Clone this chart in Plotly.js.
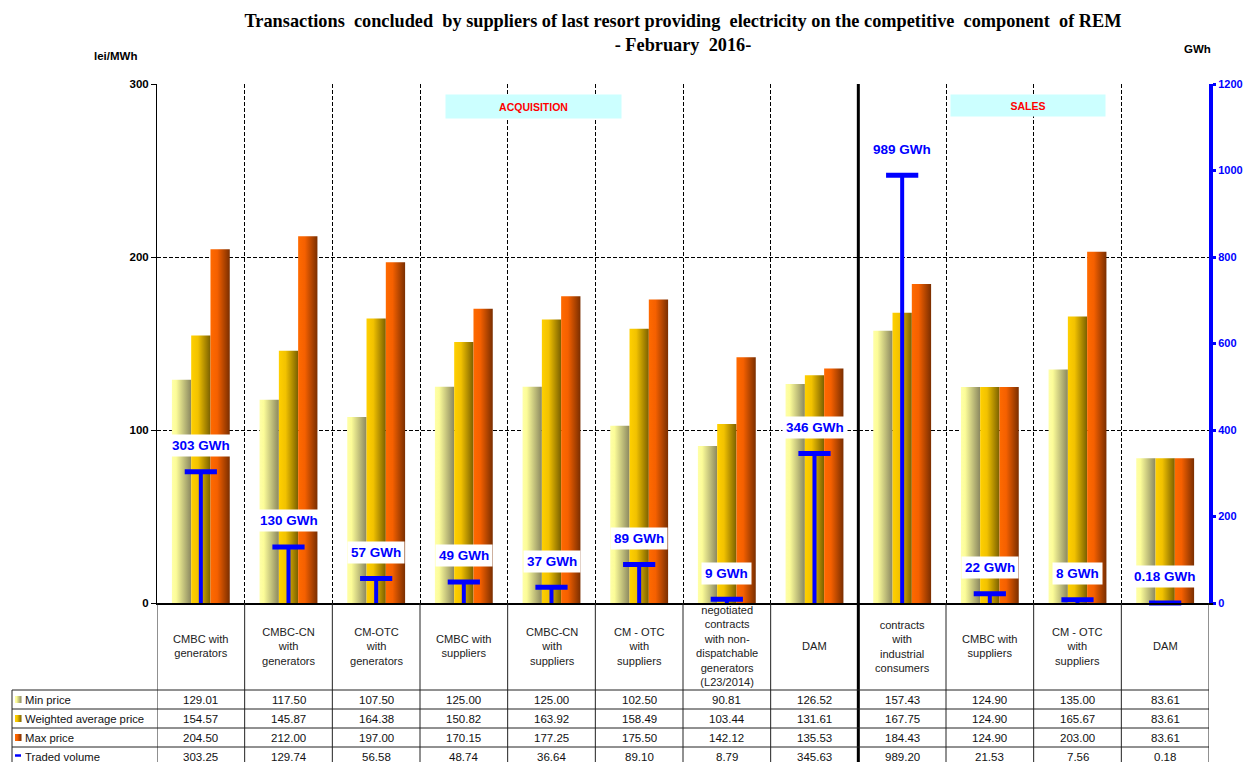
<!DOCTYPE html>
<html>
<head>
<meta charset="utf-8">
<script src="https://cdn.plot.ly/plotly-3.0.1.min.js"></script>
<style>
html,body{margin:0;padding:0;background:#fff;}
#chart{width:1246px;height:762px;}
</style>
</head>
<body>
<div id="chart"></div>
<script>
// ---------------- DATA ----------------
const categories = [
  "CMBC with<br>generators",
  "CMBC-CN<br>with<br>generators",
  "CM-OTC<br>with<br>generators",
  "CMBC with<br>suppliers",
  "CMBC-CN<br>with<br>suppliers",
  "CM - OTC<br>with<br>suppliers",
  "negotiated<br>contracts<br>with non-<br>dispatchable<br>generators<br>(L23/2014)",
  "DAM",
  "contracts<br>with<br>industrial<br>consumers",
  "CMBC with<br>suppliers",
  "CM - OTC<br>with<br>suppliers",
  "DAM"
];
const minPrice     = [129.01, 117.50, 107.50, 125.00, 125.00, 102.50, 90.81, 126.52, 157.43, 124.90, 135.00, 83.61];
const avgPrice     = [154.57, 145.87, 164.38, 150.82, 163.92, 158.49, 103.44, 131.61, 167.75, 124.90, 165.67, 83.61];
const maxPrice     = [204.50, 212.00, 197.00, 170.15, 177.25, 175.50, 142.12, 135.53, 184.43, 124.90, 203.00, 83.61];
const tradedVolume = [303.25, 129.74, 56.58, 48.74, 36.64, 89.10, 8.79, 345.63, 989.20, 21.53, 7.56, 0.18];
const seriesNames  = ["Min price", "Weighted average price", "Max price", "Traded volume"];
const groupLabels  = ["ACQUISITION", "SALES"];
const titleText = "Transactions&nbsp; concluded&nbsp; by suppliers of last resort providing&nbsp; electricity on the competitive&nbsp; component&nbsp; of REM<br>- February&nbsp; 2016-";

// ---------------- LAYOUT HELPERS ----------------
const W = 1246, H = 762;
const M = {l:157, r:37, t:84, b:159};
const PW = W - M.l - M.r, PH = H - M.t - M.b;
const px = v => (v - M.l) / PW;          // pixel x -> paper x
const py = v => (M.t + PH - v) / PH;     // pixel y -> paper y
const idx = categories.map((_, i) => i);

const FONT = "Liberation Sans, Arial, sans-serif";
const BLUE = "#0000FF";

const traces = [
  {type:'bar', name:seriesNames[0], x:idx, y:minPrice, marker:{color:'#d8d68a'}, hoverinfo:'y'},
  {type:'bar', name:seriesNames[1], x:idx, y:avgPrice, marker:{color:'#e0b000'}, hoverinfo:'y'},
  {type:'bar', name:seriesNames[2], x:idx, y:maxPrice, marker:{color:'#e05a00'}, hoverinfo:'y'},
  {type:'scatter', mode:'markers', name:seriesNames[3], x:idx, y:tradedVolume, yaxis:'y2',
   cliponaxis:false,
   marker:{symbol:'line-ew', size:23, color:BLUE, line:{color:BLUE, width:5}},
   error_y:{type:'data', symmetric:false, array:tradedVolume.map(()=>0), arrayminus:tradedVolume,
            color:BLUE, thickness:4, width:0}}
];

const shapes = [];
const annotations = [];
const lineCol = '#222';
const bottomY = py(H + 4);

// table vertical borders at category boundaries
for (let b = -0.5; b <= categories.length - 0.5; b += 1) {
  if (b === 7.5) continue;
  shapes.push({type:'line', xref:'x', yref:'paper', x0:b, x1:b, y0:0, y1:bottomY, line:{color:lineCol, width:1}});
}
// thick separator acquisition / sales
shapes.push({type:'line', xref:'x', yref:'paper', x0:7.5, x1:7.5, y0:1, y1:bottomY, line:{color:'#000', width:3}});
// left border of row labels
shapes.push({type:'line', xref:'paper', yref:'paper', x0:px(12), x1:px(12), y0:py(690), y1:bottomY, line:{color:lineCol, width:1}});
// row horizontal borders
[690, 709, 728, 747].forEach(yy => {
  shapes.push({type:'line', xref:'paper', yref:'paper', x0:px(12), x1:1, y0:py(yy), y1:py(yy), line:{color:lineCol, width:1}});
});
// legend keys in the table
const rowCenters = [699.5, 718.5, 737.5, 756.5];
const keyShapeIdx = [];
for (let r = 0; r < 3; r++) {
  keyShapeIdx.push(shapes.length);
  shapes.push({type:'rect', xref:'paper', yref:'paper', x0:px(15), x1:px(21.5),
               y0:py(rowCenters[r]+3.5), y1:py(rowCenters[r]-3.5),
               fillcolor:['#d8d68a','#e0b000','#e05a00'][r], line:{width:0}});
}
shapes.push({type:'line', xref:'paper', yref:'paper', x0:px(15), x1:px(21), y0:py(rowCenters[3]-1), y1:py(rowCenters[3]-1),
             line:{color:BLUE, width:2.5}});

// header category labels
categories.forEach((c, i) => {
  annotations.push({xref:'x', yref:'paper', x:i, y:py(646), text:c, showarrow:false,
    xanchor:'center', yanchor:'middle', align:'center', font:{family:FONT, size:11.1, color:'#222'}});
});
// data rows
const rows = [minPrice, avgPrice, maxPrice, tradedVolume];
rows.forEach((arr, r) => {
  arr.forEach((v, i) => {
    annotations.push({xref:'x', yref:'paper', x:i, y:py(rowCenters[r]), text:v.toFixed(2), showarrow:false,
      xanchor:'center', yanchor:'middle', font:{family:FONT, size:11.5, color:'#111'}});
  });
  annotations.push({xref:'paper', yref:'paper', x:px(23), y:py(rowCenters[r]), text:seriesNames[r], showarrow:false,
    xanchor:'left', yanchor:'middle', font:{family:FONT, size:11.3, color:'#111'}});
});
// volume labels
tradedVolume.forEach((v, i) => {
  const t = (v >= 1 ? Math.round(v) : v) + " GWh";
  annotations.push({xref:'x', yref:'y2', x:i, y:v, yshift:26, text:t, showarrow:false,
    xanchor:'center', yanchor:'middle', bgcolor:'#fff', borderpad:3,
    font:{family:FONT, size:13.5, color:BLUE, weight:'bold'}});
});
// group labels
annotations.push({xref:'paper', yref:'paper', x:px(533.5), y:py(106.5), text:groupLabels[0], showarrow:false,
  xanchor:'center', yanchor:'middle', width:175, height:23, bgcolor:'#CCFFFF', borderpad:0,
  font:{family:FONT, size:10.5, color:'#FF0000', weight:'bold'}});
annotations.push({xref:'paper', yref:'paper', x:px(1028), y:py(105.5), text:groupLabels[1], showarrow:false,
  xanchor:'center', yanchor:'middle', width:154, height:21, bgcolor:'#CCFFFF', borderpad:0,
  font:{family:FONT, size:10.5, color:'#FF0000', weight:'bold'}});
// axis unit titles
annotations.push({xref:'paper', yref:'paper', x:px(115), y:py(56), text:'lei/MWh', showarrow:false,
  xanchor:'center', yanchor:'middle', font:{family:FONT, size:11.5, color:'#000', weight:'bold'}});
annotations.push({xref:'paper', yref:'paper', x:px(1197.5), y:py(49), text:'GWh', showarrow:false,
  xanchor:'center', yanchor:'middle', font:{family:FONT, size:11.5, color:'#000', weight:'bold'}});

const layout = {
  width:W, height:H,
  margin:{l:M.l, r:M.r, t:M.t, b:M.b, pad:0},
  paper_bgcolor:'#fff', plot_bgcolor:'#fff',
  showlegend:false,
  barmode:'group', bargap:0.34, bargroupgap:0,
  title:{text:titleText, x:0.5, xref:'paper', xanchor:'center', y:1-27/H, yref:'container', yanchor:'top',
         font:{family:"Liberation Serif, Times New Roman, serif", size:18.3, color:'#000', weight:'bold'}},
  xaxis:{range:[-0.5, categories.length-0.5], tickmode:'linear', tick0:-0.5, dtick:1,
         showticklabels:false, ticks:'', showgrid:true, gridcolor:'#000', gridwidth:1, griddash:'4px,2px',
         showline:true, linecolor:'#000', linewidth:2, zeroline:false, fixedrange:true},
  yaxis:{range:[0,300], tickmode:'linear', tick0:0, dtick:100, showgrid:true, gridcolor:'#000', gridwidth:1,
         griddash:'4px,2px', zeroline:false, showline:true, linecolor:'#000', linewidth:1,
         ticks:'outside', ticklen:5, tickcolor:'#000', tickwidth:1,
         tickfont:{family:FONT, size:11.5, color:'#000', weight:'bold'}, fixedrange:true},
  yaxis2:{overlaying:'y', side:'right', range:[0,1200], tickmode:'linear', tick0:0, dtick:200,
          showgrid:false, zeroline:false, showline:true, linecolor:BLUE, linewidth:4,
          ticks:'outside', ticklen:3, tickwidth:3, tickcolor:BLUE,
          tickfont:{family:FONT, size:11, color:BLUE, weight:'bold'}, fixedrange:true},
  shapes:shapes,
  annotations:annotations
};

Plotly.newPlot('chart', traces, layout, {displayModeBar:false, staticPlot:true}).then(gd => {
  const svg = gd.querySelector('.main-svg');
  let defs = svg.querySelector('defs');
  const NS = 'http://www.w3.org/2000/svg';
  const grads = {
    gMin:[['0%','#FFFFA8'],['22%','#FCFC98'],['100%','#8A8760']],
    gAvg:[['0%','#FFD000'],['35%','#F2C200'],['100%','#7A6000']],
    gMax:[['0%','#FF6A00'],['35%','#F56000'],['100%','#7A2E00']]
  };
  Object.keys(grads).forEach(id => {
    const g = document.createElementNS(NS, 'linearGradient');
    g.setAttribute('id', id);
    g.setAttribute('x1','0'); g.setAttribute('y1','0'); g.setAttribute('x2','1'); g.setAttribute('y2','0');
    grads[id].forEach(([o,c]) => {
      const s = document.createElementNS(NS, 'stop');
      s.setAttribute('offset', o); s.setAttribute('stop-color', c);
      g.appendChild(s);
    });
    defs.appendChild(g);
  });
  const ids = ['gMin','gAvg','gMax'];
  gd.querySelectorAll('.barlayer .trace').forEach((t, k) => {
    t.querySelectorAll('path').forEach(p => { p.style.fill = 'url(#' + ids[k] + ')'; });
  });
  keyShapeIdx.forEach((si, k) => {
    gd.querySelectorAll('.shapelayer path[data-index="' + si + '"]').forEach(p => { p.style.fill = 'url(#' + ids[k] + ')'; });
  });
});
</script>
</body>
</html>
